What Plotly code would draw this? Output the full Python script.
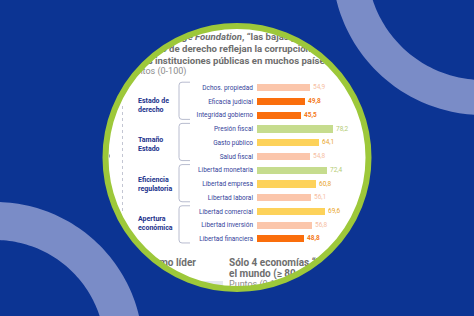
import numpy as np
import plotly.graph_objects as go

# ---------------- data ----------------
categories = ["Dchos. propiedad", "Eficacia judicial", "Integridad gobierno",
              "Presión fiscal", "Gasto público", "Salud fiscal",
              "Libertad monetaria", "Libertad empresa", "Libertad laboral",
              "Libertad comercial", "Libertad inversión", "Libertad financiera"]
values = [54.9, 49.8, 45.5, 78.2, 64.1, 54.8, 72.4, 60.8, 56.1, 69.6, 56.8, 48.8]
groups = ["Estado de<br>derecho", "Tamaño<br>Estado", "Eficiencia<br>regulatoria", "Apertura<br>económica"]
group_size = 3
title_lines = ["Según <i>Heritage Foundation</i>, \u201clas bajas puntuaciones en",
               "el Estado de derecho reflejan la corrupción de",
               "de las instituciones públicas en muchos países\u201d"]
subtitle = "Puntos (0-100)"
bottom_left = "Chile como líder"
bottom_right = ["Sólo 4 economías \u201clibres\u201d en", "el mundo (\u2265 80 puntos)"]
bottom_sub = "Puntos (0-100)"

# ---------------- style ----------------
W, H = 474, 316
BG = "#0c3493"
ARC = "#7a8cc7"
GREEN = "#9dc83a"
NAVY = "#22328c"
GRAY = "#6e6e6e"
FONT = "Roboto"

def bar_color(v):
    if v < 50:
        return "#fa6e0c", "#f47a20"
    if v < 60:
        return "#fbc6ab", "#f6bea2"
    if v < 70:
        return "#fdd25a", "#e9a62c"
    return "#c6dc8e", "#b3cc74"

fill_cols = [bar_color(v)[0] for v in values]
text_cols = [bar_color(v)[1] for v in values]
text_w = ["bold" if v < 50 else "normal" for v in values]

# layout geometry (pixels)
row_top, row_step = 80.8, 13.73
n = len(categories)
bar_x0, px_per_unit = 257.0, 0.97
cx, cy, R = 237.0, 157.5, 131.5

fig = go.Figure()

def txt(x, y, s, size, color, pos="middle right", weight="normal"):
    fig.add_trace(go.Scatter(x=[x], y=[y], mode="text", text=[s], textposition=pos,
                             textfont=dict(family=FONT, size=size, color=color, weight=weight),
                             hoverinfo="skip", showlegend=False, xaxis="x", yaxis="y",
                             cliponaxis=False))

title_y = [38, 49.6, 61.4]
for line, yy in zip(title_lines, title_y):
    txt(127, yy, line, 9.6, GRAY, weight="bold")
txt(127, 71.7, subtitle, 9, "#8c8c8c")
for i, g in enumerate(groups):
    txt(138, 105.4 + 39.5 * i, g, 7, NAVY, weight="bold")
txt(196, 263, bottom_left, 10, GRAY, pos="middle left", weight="bold")
txt(229, 263, bottom_right[0], 10, GRAY, weight="bold")
txt(229, 274.8, bottom_right[1], 10, GRAY, weight="bold")
txt(229, 284.5, bottom_sub, 9, "#8c8c8c")

# bars
fig.add_trace(go.Bar(
    x=values, y=categories, orientation="h", width=0.52,
    marker=dict(color=fill_cols, line=dict(width=0)),
    text=[f"{v:.1f}".replace(".", ",") for v in values],
    textposition="outside", cliponaxis=False, constraintext="none",
    textfont=dict(family=FONT, size=6.5, color=text_cols, weight=text_w),
    xaxis="x2", yaxis="y2", showlegend=False, hoverinfo="skip"))

# shapes
shapes = []
shapes.append(dict(type="rect", xref="x", yref="y", x0=196, x1=223, y0=281, y1=287,
                   fillcolor="#e4e8f1", line=dict(width=0), layer="below"))
shapes.append(dict(type="line", xref="x", yref="y", x0=122.5, x1=122.5, y0=106, y1=211,
                   line=dict(color="#c3c6d3", width=1, dash="dot"), layer="below"))
shapes.append(dict(type="line", xref="x", yref="y", x0=109.5, x1=109.5, y0=154.5, y1=157.5,
                   line=dict(color="#9aa0bb", width=1), layer="below"))
for gi in range(len(groups)):
    t = row_top + gi * group_size * row_step + 1.4
    b = row_top + (gi + 1) * group_size * row_step - 2.6
    xl, xr, r = 179.0, 190.0, 3.0
    p = (f"M{xr},{t} L{xl + r},{t} Q{xl},{t} {xl},{t + r} L{xl},{b - r} "
         f"Q{xl},{b} {xl + r},{b} L{xr},{b}")
    shapes.append(dict(type="path", xref="x", yref="y", path=p,
                       line=dict(color="#b8bccf", width=1), layer="below"))

def circ(x0, y0, r, k=240):
    a = np.linspace(0, 2 * np.pi, k, endpoint=False)
    pts = [f"{x0 + r * np.cos(t):.2f},{y0 + r * np.sin(t):.2f}" for t in a]
    return "M" + " L".join(pts) + " Z"

mask = f"M-20,-20 L{W + 20},-20 L{W + 20},{H + 20} L-20,{H + 20} Z " + circ(cx, cy, R)
shapes.append(dict(type="path", xref="x", yref="y", path=mask, fillcolor=BG,
                   fillrule="evenodd", line=dict(width=0), layer="above"))
for (ax, ay, ro, ri) in [(483, -36, 151, 116), (-5, 350, 148, 110)]:
    shapes.append(dict(type="path", xref="x", yref="y", path=circ(ax, ay, ro) + " " + circ(ax, ay, ri),
                       fillcolor=ARC, fillrule="evenodd", line=dict(width=0), layer="above"))
shapes.append(dict(type="circle", xref="x", yref="y", x0=cx - R, x1=cx + R, y0=cy - R, y1=cy + R,
                   line=dict(color=GREEN, width=6), fillcolor="rgba(0,0,0,0)", layer="above"))

dom_top = 1 - row_top / H
dom_bot = 1 - (row_top + n * row_step) / H
fig.update_layout(
    width=W, height=H, margin=dict(l=0, r=0, t=0, b=0, pad=0),
    paper_bgcolor="white", plot_bgcolor="rgba(0,0,0,0)",
    showlegend=False, shapes=shapes, bargap=0,
    xaxis=dict(range=[0, W], domain=[0, 1], visible=False, fixedrange=True),
    yaxis=dict(range=[H, 0], domain=[0, 1], visible=False, fixedrange=True),
    xaxis2=dict(range=[0, 100], domain=[bar_x0 / W, (bar_x0 + 100 * px_per_unit) / W],
                visible=False, anchor="y2", fixedrange=True),
    yaxis2=dict(type="category", categoryorder="array", categoryarray=categories,
                range=[n - 0.5, -0.5], domain=[dom_bot, dom_top], anchor="x2",
                showgrid=False, showline=False, zeroline=False, ticks="",
                ticklabelstandoff=3,
                tickfont=dict(family=FONT, size=6.5, color="#34439a"), fixedrange=True),
)

fig.write_html("out.html")
